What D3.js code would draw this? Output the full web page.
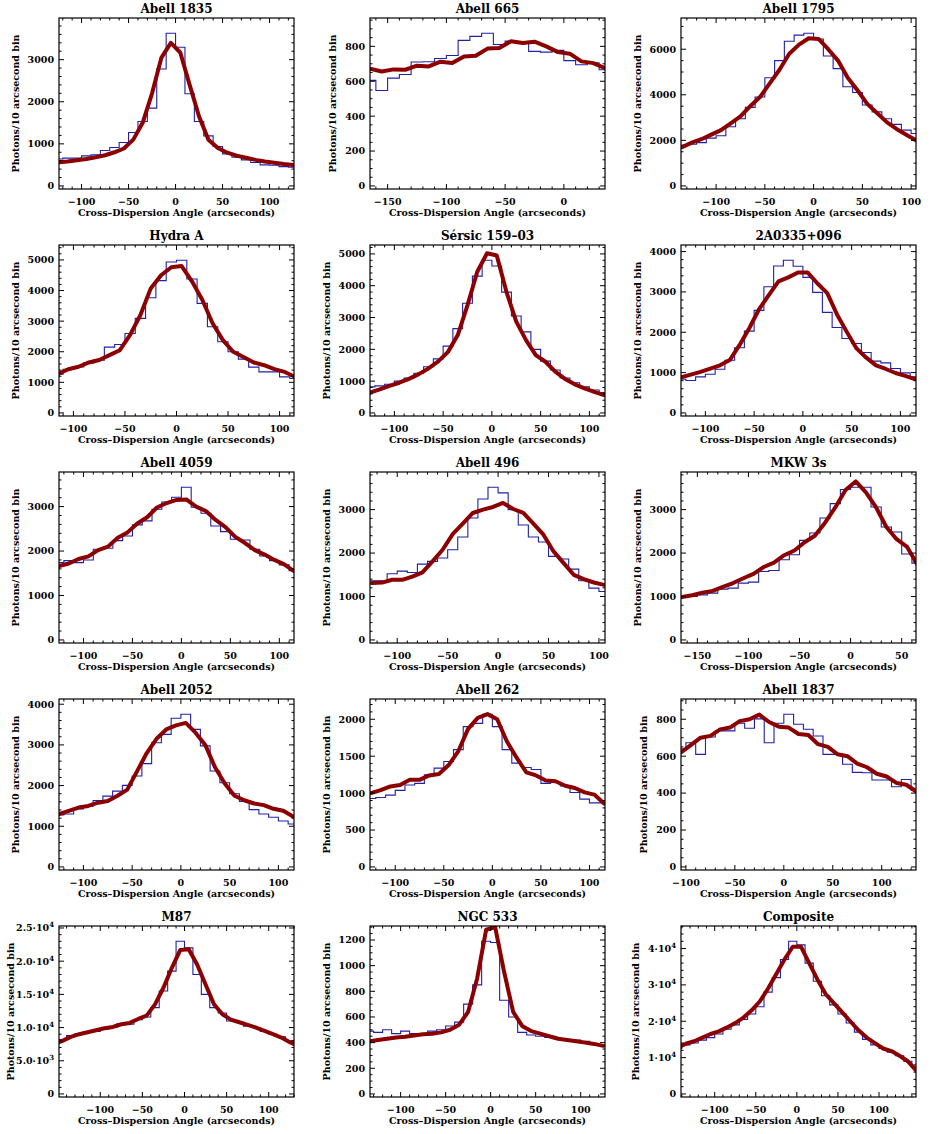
<!DOCTYPE html>
<html><head><meta charset="utf-8">
<script src="https://cdn.jsdelivr.net/npm/d3@7"></script>
<style>body{margin:0;background:#fff} svg{display:block}</style>
</head><body>
<svg id="c" width="934" height="1134"></svg>
<script>
const titles = ["Abell 1835","Abell 665","Abell 1795","Hydra A","Sérsic 159–03","2A0335+096",
  "Abell 4059","Abell 496","MKW 3s","Abell 2052","Abell 262","Abell 1837","M87","NGC 533","Composite"];
const xLo = [-124,-165,-136,-114,-125,-125,-125,-127,-166,-125,-126,-105,-149,-134,-141];
const xHi = [126,35,105,114,116,116,115,106,64,116,116,135,130,127,145];
const histStart = [-130,-170,-140,-120,-130,-130,-130,-130,-170,-130,-130,-110,-160,-140,-150];
const yStep = [1000,200,2000,1000,1000,1000,1000,1000,1000,1000,500,200,5000,200,10000];
const xLabel = "Cross–Dispersion Angle (arcseconds)";
const yLabel = "Photons/10 arcsecond bin";

const histA1835 = [640,660,660,714,738,841,913,1032,1270,1532,1849,2778,3627,3294,2190,1532,1190,937,762,683,619,556,500,492,460,444];
const modelA1835 = [560,580,610,640,680,730,800,890,1100,1500,2200,3050,3400,3170,2400,1650,1100,900,790,720,670,620,580,550,520,500];
const histA665 = [605,547,618,639,710,712,730,748,834,857,875,811,830,817,771,767,777,718,695,706,666];
const modelA665 = [672,656,668,666,689,685,712,704,742,746,787,790,829,819,827,800,767,758,714,704,675];
const histA1795 = [1800,1830,1900,2100,2200,2600,2950,3450,3900,4750,5500,6350,6620,6700,6450,5700,5150,4350,4100,3550,3250,2950,2700,2450,2300];
const modelA1795 = [1700,1900,2050,2250,2450,2750,3050,3500,3900,4500,5100,5800,6200,6480,6450,6000,5500,4750,4200,3600,3200,2800,2500,2250,2000];
const histHydra = [1266,1430,1500,1637,1725,2150,2238,2598,3090,3766,4323,4934,4989,4378,3581,2817,2325,1998,1758,1496,1343,1343,1179,1124];
const modelHydra = [1270,1430,1510,1650,1730,1890,2050,2550,3200,4070,4500,4760,4800,4300,3700,2930,2380,2000,1830,1650,1560,1430,1340,1180];
const histS159 = [820,850,900,1000,1100,1250,1450,1700,2100,2650,3450,4300,4800,4620,3800,3050,2550,2000,1630,1350,1100,950,820,720,640];
const modelS159 = [640,740,850,950,1070,1220,1400,1620,1920,2450,3390,4440,5020,4950,3800,2870,2290,1820,1610,1300,1070,900,770,660,560];
const hist2A0335 = [836,803,894,961,1085,1308,1615,2029,2542,3130,3644,3785,3636,3362,2990,2493,2120,1847,1723,1499,1284,1242,1101,994,894];
const model2A0335 = [880,950,1020,1100,1180,1310,1680,2100,2570,2920,3260,3360,3480,3480,3210,2970,2440,2010,1600,1370,1180,1090,990,920,840];
const histA4059 = [1740,1785,1740,1800,2040,2063,2235,2340,2588,2678,2940,3105,3210,3435,2985,2850,2565,2438,2265,2250,2040,1890,1785,1688,1560];
const modelA4059 = [1660,1720,1820,1880,2020,2100,2300,2420,2620,2760,2980,3080,3150,3160,3000,2900,2700,2540,2320,2180,2020,1920,1800,1700,1550];
const histA496 = [1362,1362,1523,1585,1554,1746,1808,1885,2077,2369,2808,3246,3515,3385,3000,2646,2369,2254,1923,1862,1631,1362,1192,1115];
const modelA496 = [1310,1320,1385,1385,1460,1554,1808,2077,2438,2677,2923,3000,3062,3154,3015,2923,2677,2423,2038,1769,1500,1400,1323,1269];
const histMKW3s = [985,1000,1038,1077,1169,1192,1308,1331,1577,1600,1846,1962,2292,2462,2808,3138,3462,3515,3515,3062,2600,2485,1977,1769];
const modelMKW3s = [990,1030,1090,1130,1220,1310,1420,1520,1680,1780,1950,2060,2250,2400,2700,3050,3450,3650,3400,3050,2600,2320,2150,1750];
const histA2052 = [1278,1300,1427,1493,1633,1740,1864,2004,2235,2540,3052,3258,3654,3753,3381,2977,2359,2070,1798,1608,1410,1303,1221,1130,1056];
const modelA2052 = [1300,1380,1460,1500,1580,1620,1750,1900,2350,2800,3150,3380,3480,3540,3300,3000,2450,2050,1750,1640,1560,1520,1430,1380,1240];
const histA262 = [927,941,973,1037,1110,1132,1247,1338,1429,1589,1900,1945,2068,1900,1589,1406,1347,1320,1132,1146,1096,1009,918,868,868];
const modelA262 = [1000,1040,1090,1110,1180,1180,1240,1260,1380,1570,1870,2020,2070,2000,1700,1480,1280,1240,1170,1160,1100,1070,1010,980,860];
const histA1837 = [640,673,610,704,737,737,778,751,802,673,778,827,773,746,709,610,610,556,512,510,471,471,434,474,416];
const modelA1837 = [620,660,700,710,745,755,790,800,825,785,760,755,720,715,665,650,610,600,560,540,505,490,455,445,410];
const histM87 = [7600,8200,8800,9100,9400,9400,9800,10000,10600,10500,11200,11600,13000,15500,18500,23000,22000,18000,15000,13000,12200,11000,10800,10200,10000,9400,9000,8600,8000,7500];
const modelM87 = [7500,8000,8600,9000,9300,9600,9900,10100,10500,10700,11300,11800,13500,16000,19000,21700,21800,19500,16500,13500,12000,11200,10800,10400,10000,9500,9000,8500,7800,7200];
const histN533 = [490,480,500,470,490,470,460,490,500,530,560,700,850,1190,1180,730,600,480,460,450,440,430,420,420,410,390,380];
const modelN533 = [410,420,430,440,445,455,465,470,480,500,540,640,900,1280,1300,950,640,530,490,470,450,430,420,410,400,390,375];
const histComp = [12500,13500,14000,14800,15500,16500,17800,19000,20500,22000,24000,28000,32000,37000,42000,41000,36000,31000,27000,24500,22000,19500,17000,15000,13500,12500,11500,10500,9000,7500];
const modelComp = [12800,13800,14500,15500,16500,17200,18300,19500,21000,23000,25500,29000,33000,37000,40500,40500,36000,31500,27500,25000,22500,20000,17500,15500,14000,12500,11800,10500,9000,6500];

const histSeries = [histA1835,histA665,histA1795,histHydra,histS159,hist2A0335,histA4059,histA496,histMKW3s,histA2052,histA262,histA1837,histM87,histN533,histComp];
const modelSeries = [modelA1835,modelA665,modelA1795,modelHydra,modelS159,model2A0335,modelA4059,modelA496,modelMKW3s,modelA2052,modelA262,modelA1837,modelM87,modelN533,modelComp];

const FONT = "DejaVu Serif";
const svg = d3.select("#c");
const W = 235, H = 171, L0 = 59, T0 = 18, DX = 311, DY = 227;
const BLUE = "#2020a8", RED = "#8c0000";

function fmtX(t){ return t < 0 ? "\u2212" + Math.abs(t) : String(t); }

histSeries.forEach((h, i) => {
  const model = modelSeries[i];
  const col = i % 3, row = Math.floor(i / 3);
  const g = svg.append("g").attr("transform", `translate(${L0 + col*DX},${T0 + row*DY})`);
  const M = d3.max(h);
  const x = d3.scaleLinear().domain([xLo[i], xHi[i]]).range([0, W]);
  const y = d3.scaleLinear().domain([-0.02*M, 1.1*M]).range([H, 0]);

  const cid = "clip" + i;
  g.append("clipPath").attr("id", cid).append("rect").attr("width", W).attr("height", H);
  const pg = g.append("g").attr("clip-path", `url(#${cid})`);

  let d = "";
  h.forEach((v, k) => {
    const e0 = histStart[i] + 10*k, e1 = e0 + 10;
    if (k === 0) d += `M${x(e0)},${y(v)}`; else d += `V${y(v)}`;
    d += `H${x(e1)}`;
  });
  pg.append("path").attr("d", d).attr("fill", "none").attr("stroke", BLUE).attr("stroke-width", 1.1);

  const line = d3.line().x((v, k) => x(histStart[i] + 5 + 10*k)).y(v => y(v));
  pg.append("path").attr("d", line(model)).attr("fill", "none").attr("stroke", RED)
    .attr("stroke-width", 4).attr("stroke-linejoin", "round").attr("stroke-linecap", "round");

  g.append("rect").attr("width", W).attr("height", H).attr("fill", "none")
    .attr("stroke", "#000").attr("stroke-width", 1.2);

  const tk = g.append("g").attr("stroke", "#000").attr("stroke-width", 1);
  const xMaj = d3.range(Math.ceil(xLo[i]/50)*50, xHi[i] + 1e-9, 50);
  const xMin = d3.range(Math.ceil(xLo[i]/10)*10, xHi[i] + 1e-9, 10);
  xMin.forEach(t => {
    const L = (t % 50 === 0) ? 5 : 2.5;
    tk.append("line").attr("x1", x(t)).attr("x2", x(t)).attr("y1", H).attr("y2", H - L);
    tk.append("line").attr("x1", x(t)).attr("x2", x(t)).attr("y1", 0).attr("y2", L);
  });
  const step = yStep[i];
  const mant = step / Math.pow(10, Math.floor(Math.log10(step)));
  const minorStep = step / (Math.round(mant) === 2 ? 4 : 5);
  const yMaj = d3.range(0, 1.1*M + 1e-9, step);
  const yMin = d3.range(0, 1.1*M + 1e-9, minorStep);
  yMin.forEach(t => {
    const isMaj = Math.abs(t/step - Math.round(t/step)) < 1e-6;
    const L = isMaj ? 5 : 2.5;
    tk.append("line").attr("x1", 0).attr("x2", L).attr("y1", y(t)).attr("y2", y(t));
    tk.append("line").attr("x1", W).attr("x2", W - L).attr("y1", y(t)).attr("y2", y(t));
  });

  const txt = g.append("g").attr("font-family", FONT).attr("font-weight", "bold").attr("fill", "#000");
  xMaj.forEach(t => {
    txt.append("text").attr("x", x(t)).attr("y", H + 16).attr("text-anchor", "middle")
      .attr("font-size", 9.5).text(fmtX(t));
  });
  let minLeft = 0;
  yMaj.forEach(t => {
    const te = txt.append("text").attr("x", -5).attr("y", y(t) + 3.4).attr("text-anchor", "end")
      .attr("font-size", 9.5);
    if ((i === 12 || i === 14) && t !== 0) {
      const ex = Math.floor(Math.log10(t));
      const m = t / Math.pow(10, ex);
      const ms = i === 12 ? m.toFixed(1) : String(m);
      te.append("tspan").text(ms + "\u00b710");
      te.append("tspan").attr("dy", -4).attr("font-size", 7).text(String(ex));
    } else {
      te.text(String(t));
    }
    const bb = te.node().getBBox();
    minLeft = Math.min(minLeft, bb.x);
  });
  const ylx = Math.max(minLeft - 9, -45);
  txt.append("text").attr("transform", `translate(${ylx},${H/2}) rotate(-90)`)
    .attr("text-anchor", "middle").attr("font-size", 9.5).text(yLabel);
  txt.append("text").attr("x", W/2).attr("y", H + 26.5).attr("text-anchor", "middle")
    .attr("font-size", 9.5).text(xLabel);
  txt.append("text").attr("x", W/2).attr("y", -5.5).attr("text-anchor", "middle")
    .attr("font-size", 12).text(titles[i]);
});
</script>
</body></html>
